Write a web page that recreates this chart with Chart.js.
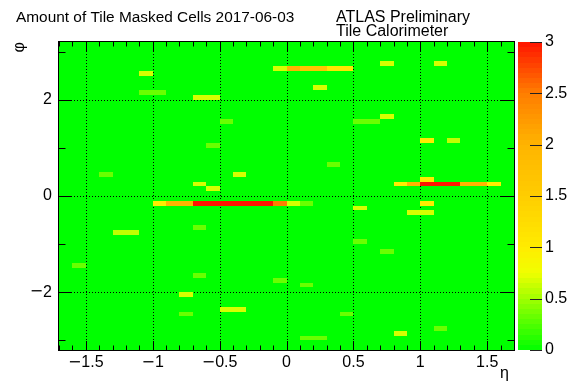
<!DOCTYPE html>
<html>
<head>
<meta charset="utf-8">
<script src="https://cdn.jsdelivr.net/npm/chart.js@4.4.0/dist/chart.umd.min.js"></script>
<style>
  html, body { margin: 0; padding: 0; background: #fff; }
  #wrap { width: 582px; height: 381px; }
</style>
</head>
<body>
<div id="wrap"><canvas id="tileMap" width="582" height="381"></canvas></div>
<script>
// ---- axes ----
const etaRange = [-1.7, 1.7];
const phiRange = [-3.2, 3.2];
const etaTicks = [-1.5, -1, -0.5, 0, 0.5, 1, 1.5];
const phiTicks = [-2, 0, 2];
const amountTicks = [0, 0.5, 1, 1.5, 2, 2.5, 3];
const binWidth = 0.1;

// ---- masked cells: lower bin edge in eta / phi, and the amount ----
const cellEta = [
  -1.1, -1.1, -1.0, -0.7, -0.6, -0.6, -1.4, -0.7, -0.6,
  -0.1, 0.0, 0.1, 0.2, 0.3, 0.4,
  0.2, -0.5, 0.5, 0.6, 0.3, -0.4, 0.7, 1.1, 0.7, 1.0, 1.2, 1.0,
  0.8, 0.9, 1.0, 1.1, 1.2, 1.3, 1.4, 1.5,
  -1.0, -0.9, -0.8, -0.7, -0.6, -0.5, -0.4, -0.3, -0.2, -0.1, 0.0, 0.1,
  -0.7, -1.3, -1.2, -1.6, -0.7, -0.8, -0.8, 0.5, 0.5, -0.1, 0.1,
  -0.5, -0.4, 0.4, 0.1, 0.2, 1.0, 0.9, 1.0, 0.7, 1.1, 0.8
];
const cellPhi = [
  2.5, 2.1, 2.1, 2.0, 2.0, 1.0, 0.4, 0.2, 0.1,
  2.6, 2.6, 2.6, 2.6, 2.6, 2.6,
  2.2, 1.5, 1.5, 1.5, 0.6, 0.4, 2.7, 2.7, 1.6, 1.1, 1.1, 0.3,
  0.2, 0.2, 0.2, 0.2, 0.2, 0.2, 0.2, 0.2,
  -0.2, -0.2, -0.2, -0.2, -0.2, -0.2, -0.2, -0.2, -0.2, -0.2, -0.2, -0.2,
  -0.7, -0.8, -0.8, -1.5, -1.7, -2.1, -2.5, -0.3, -1.0, -1.8, -1.9,
  -2.4, -2.4, -2.5, -3.0, -3.0, -0.2, -0.4, -0.4, -1.2, -2.8, -2.9
];
const cellAmount = [
  0.67, 0.33, 0.33, 0.67, 0.67, 0.33, 0.33, 0.67, 0.67,
  0.67, 2, 1.67, 1.67, 1.1, 1.1,
  0.67, 0.33, 0.33, 0.33, 0.33, 0.67, 0.67, 0.67, 0.67, 1, 0.6, 1,
  1, 2, 3, 3, 3, 2, 2, 1,
  1, 2, 2, 3, 3, 3, 3, 3, 3, 2.5, 0.67, 0.33,
  0.33, 0.6, 0.6, 0.33, 0.33, 0.67, 0.33, 0.67, 0.33, 0.33, 0.33,
  0.67, 0.67, 0.33, 0.33, 0.33, 1, 0.67, 0.67, 0.33, 0.33, 0.67
];

// green -> yellow -> red, like the ROOT palette
const paletteStops = [
  [0, 0, 255, 0], [0.5, 160, 255, 0], [0.75, 240, 255, 0], [1, 255, 236, 0],
  [1.5, 255, 205, 0], [2, 255, 180, 0], [2.5, 255, 125, 0], [3, 255, 20, 0]
];
function palette(v) {
  v = Math.max(0, Math.min(3, v));
  for (let i = 1; i < paletteStops.length; i++) {
    const a = paletteStops[i - 1], b = paletteStops[i];
    if (v <= b[0]) {
      const t = (v - a[0]) / (b[0] - a[0]);
      const c = [1, 2, 3].map(k => Math.round(a[k] + t * (b[k] - a[k])));
      return `rgb(${c[0]},${c[1]},${c[2]})`;
    }
  }
  return 'rgb(255,20,0)';
}

const FONT = 'Liberation Sans, Arial, Helvetica, sans-serif';
const MINUS_FONT = '16px DejaVu Sans, sans-serif';

// ROOT draws a wide minus sign; draw it in DejaVu, the digits in Liberation
function drawNumber(ctx, v, x, y, align) {
  const digits = String(Math.abs(v));
  ctx.font = `16px ${FONT}`;
  const wd = ctx.measureText(digits).width;
  let wm = 0;
  if (v < 0) { ctx.font = MINUS_FONT; wm = ctx.measureText('\u2212').width; }
  const total = wm + wd;
  let x0 = align === 'center' ? x - total / 2 : align === 'right' ? x - total : x;
  ctx.textAlign = 'left';
  if (v < 0) { ctx.font = MINUS_FONT; ctx.fillText('\u2212', x0, y); }
  ctx.font = `16px ${FONT}`;
  ctx.fillText(digits, x0 + wm, y);
}

const cells = cellEta.map((e, i) => ({ x: e + binWidth / 2, y: cellPhi[i] + binWidth / 2, v: cellAmount[i] }));

// draws frame, grid, bins, colour bar and the labels through the chart scales
const colzPlugin = {
  id: 'colz',
  beforeDatasetsDraw(chart) {
    const { ctx, chartArea: a, scales } = chart;
    const x = scales.x, y = scales.y, z = scales.z;
    ctx.save();

    // empty bins
    ctx.fillStyle = palette(0);
    ctx.fillRect(a.left, a.top, a.right - a.left, a.bottom - a.top);

    // dotted grid (under the bins)
    ctx.strokeStyle = '#000';
    ctx.lineWidth = 1;
    ctx.setLineDash([1, 2]);
    ctx.beginPath();
    etaTicks.forEach(v => {
      const px = Math.round(x.getPixelForValue(v)) + 0.5;
      ctx.moveTo(px, a.top); ctx.lineTo(px, a.bottom);
    });
    phiTicks.forEach(v => {
      const py = Math.round(y.getPixelForValue(v)) + 0.5;
      ctx.moveTo(a.left, py); ctx.lineTo(a.right, py);
    });
    ctx.stroke();
    ctx.setLineDash([]);

    // masked bins
    chart.data.datasets[0].data.forEach(c => {
      const x0 = Math.round(x.getPixelForValue(c.x - binWidth / 2));
      const x1 = Math.round(x.getPixelForValue(c.x + binWidth / 2));
      const y0 = Math.round(y.getPixelForValue(c.y + binWidth / 2));
      const y1 = Math.round(y.getPixelForValue(c.y - binWidth / 2));
      ctx.fillStyle = palette(c.v);
      ctx.fillRect(x0, y0, x1 - x0, y1 - y0);
    });

    // frame
    ctx.strokeStyle = '#000';
    ctx.strokeRect(a.left - 0.5, a.top - 0.5, a.right - a.left + 1, a.bottom - a.top + 1);

    // tick marks, inside the frame on all four sides
    ctx.beginPath();
    for (let k = -17; k <= 17; k++) {
      const px = Math.round(x.getPixelForValue(k / 10)) + 0.5;
      const len = k % 5 === 0 ? 9 : 4.5;
      ctx.moveTo(px, a.bottom); ctx.lineTo(px, a.bottom - len);
      ctx.moveTo(px, a.top); ctx.lineTo(px, a.top + len);
    }
    for (let k = -3; k <= 3; k++) {
      const py = Math.round(y.getPixelForValue(k)) + 0.5;
      const len = k % 2 === 0 ? 13 : 6.5;
      ctx.moveTo(a.left, py); ctx.lineTo(a.left + len, py);
      ctx.moveTo(a.right, py); ctx.lineTo(a.right - len, py);
    }
    ctx.stroke();

    // colour bar
    const cbL = a.right + 4, cbR = a.right + 28;
    const nBands = 60;
    for (let i = 0; i < nBands; i++) {
      const v0 = 3 * i / nBands, v1 = 3 * (i + 1) / nBands;
      const p0 = Math.round(z.getPixelForValue(v0));
      const p1 = Math.round(z.getPixelForValue(v1));
      ctx.fillStyle = palette((v0 + v1) / 2);
      ctx.fillRect(cbL, p1, cbR - cbL, p0 - p1);
    }
    ctx.strokeStyle = '#222';
    ctx.beginPath();
    amountTicks.forEach(v => {
      const py = Math.round(z.getPixelForValue(v)) + 0.5;
      ctx.moveTo(cbR, py); ctx.lineTo(cbR - 12, py);
    });
    ctx.stroke();

    // tick labels
    ctx.fillStyle = '#000';
    ctx.textBaseline = 'top';
    etaTicks.forEach(v => drawNumber(ctx, v, x.getPixelForValue(v), a.bottom + 5, 'center'));
    ctx.textBaseline = 'middle';
    phiTicks.forEach(v => drawNumber(ctx, v, a.left - 7, y.getPixelForValue(v), 'right'));
    amountTicks.forEach(v => drawNumber(ctx, v, cbR + 3, z.getPixelForValue(v), 'left'));
    ctx.restore();
  },
  afterDraw(chart) {
    const { ctx, chartArea: a } = chart;
    ctx.save();
    ctx.fillStyle = '#000';
    ctx.textBaseline = 'alphabetic';
    ctx.textAlign = 'left';
    ctx.font = `15.4px ${FONT}`;
    ctx.fillText('Amount of Tile Masked Cells 2017-06-03', 16, 22);
    ctx.font = `16px ${FONT}`;
    ctx.fillText('ATLAS Preliminary', 336, 22);
    ctx.fillText('Tile Calorimeter', 336, 36);

    // axis titles
    ctx.textAlign = 'right';
    ctx.fillText('\u03b7', a.right - 5, 378);
    ctx.translate(20, a.top);
    ctx.rotate(-Math.PI / 2);
    ctx.textBaseline = 'middle';
    ctx.fillText('\u03c6', 0, 0);
    ctx.restore();
  }
};

const hiddenAxis = (min, max, pos) => ({ type: 'linear', position: pos, min: min, max: max, display: false });

new Chart(document.getElementById('tileMap'), {
  type: 'scatter',
  data: {
    datasets: [{ label: 'masked cells', data: cells, pointRadius: 0, pointHitRadius: 0, borderWidth: 0, showLine: false }]
  },
  options: {
    responsive: false,
    animation: false,
    events: [],
    layout: { padding: { top: 42, left: 59, right: 68, bottom: 31 } },
    plugins: { legend: { display: false }, tooltip: { enabled: false } },
    scales: {
      x: hiddenAxis(etaRange[0], etaRange[1], 'bottom'),
      y: hiddenAxis(phiRange[0], phiRange[1], 'left'),
      z: hiddenAxis(0, 3, 'right')
    }
  },
  plugins: [colzPlugin]
});
</script>
</body>
</html>
